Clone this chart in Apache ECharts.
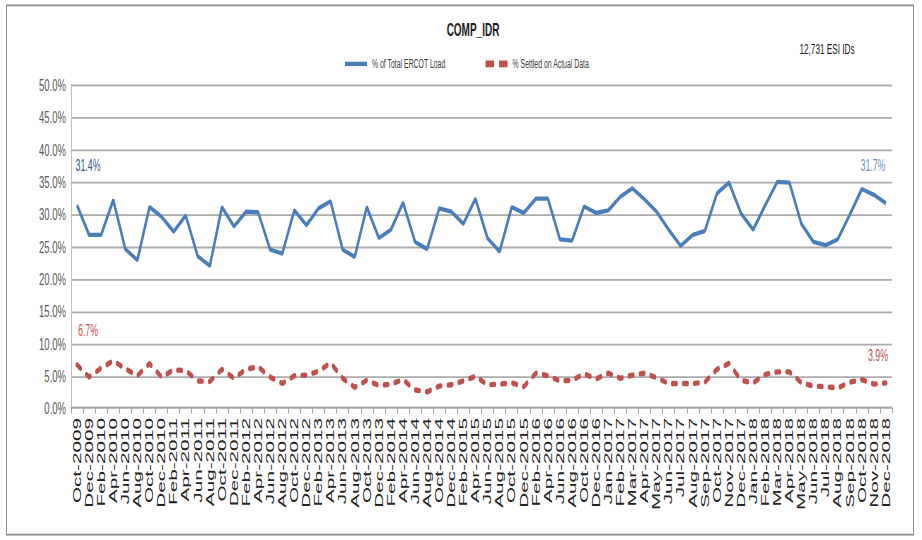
<!DOCTYPE html>
<html>
<head>
<meta charset="utf-8">
<title>COMP_IDR</title>
<script src="https://cdn.jsdelivr.net/npm/echarts@6/dist/echarts.min.js"></script>
<style>
  html, body { margin: 0; background: #fff; }
  #wrap { width: 922px; height: 540px; overflow: hidden; }
  /* the source picture is an Excel chart stretched vertically, so draw flat and stretch */
  #chart {
    width: 922px;
    height: 300px;
    transform: scaleY(1.8);
    transform-origin: 0 0;
  }
</style>
</head>
<body>
<div id="wrap"><div id="chart"></div></div>
<script>
// categories: every other month up to Dec-2016, then monthly
const months = [
  "Oct-2009", "Dec-2009",
  "Feb-2010", "Apr-2010", "Jun-2010", "Aug-2010", "Oct-2010", "Dec-2010",
  "Feb-2011", "Apr-2011", "Jun-2011", "Aug-2011", "Oct-2011", "Dec-2011",
  "Feb-2012", "Apr-2012", "Jun-2012", "Aug-2012", "Oct-2012", "Dec-2012",
  "Feb-2013", "Apr-2013", "Jun-2013", "Aug-2013", "Oct-2013", "Dec-2013",
  "Feb-2014", "Apr-2014", "Jun-2014", "Aug-2014", "Oct-2014", "Dec-2014",
  "Feb-2015", "Apr-2015", "Jun-2015", "Aug-2015", "Oct-2015", "Dec-2015",
  "Feb-2016", "Apr-2016", "Jun-2016", "Aug-2016", "Oct-2016", "Dec-2016",
  "Jan-2017", "Feb-2017", "Mar-2017", "Apr-2017", "May-2017", "Jun-2017",
  "Jul-2017", "Aug-2017", "Sep-2017", "Oct-2017", "Nov-2017", "Dec-2017",
  "Jan-2018", "Feb-2018", "Mar-2018", "Apr-2018", "May-2018", "Jun-2018",
  "Jul-2018", "Aug-2018", "Sep-2018", "Oct-2018", "Nov-2018", "Dec-2018",
];

const ercotLoadPct = [
  31.4, 26.8, 26.8, 32.2, 24.6, 22.9, 31.1, 29.6, 27.3, 29.8,
  23.5, 22.0, 31.1, 28.1, 30.4, 30.3, 24.5, 23.9, 30.6, 28.3,
  30.9, 32.0, 24.5, 23.4, 31.1, 26.3, 27.6, 31.8, 25.7, 24.6,
  30.9, 30.4, 28.5, 32.4, 26.3, 24.2, 31.1, 30.2, 32.4, 32.4,
  26.1, 25.9, 31.2, 30.2, 30.6, 32.7, 34.0, 32.3, 30.4, 27.6,
  25.1, 26.8, 27.4, 33.2, 34.9, 30.1, 27.6, 31.4, 35.0, 34.9,
  28.5, 25.7, 25.2, 26.1, 29.9, 33.9, 33.0, 31.7,
];

const settledActualPct = [
  6.7, 4.8, 6.2, 7.3, 6.1, 5.0, 6.9, 4.8, 5.9, 5.8,
  4.2, 4.1, 6.0, 4.6, 6.0, 6.4, 4.8, 3.8, 5.0, 5.1,
  5.7, 7.0, 4.6, 3.2, 4.3, 3.5, 3.7, 4.4, 2.8, 2.5,
  3.4, 3.6, 4.2, 4.9, 3.6, 3.7, 3.9, 3.3, 5.4, 5.0,
  4.2, 4.3, 5.3, 4.5, 5.4, 4.6, 5.1, 5.4, 4.7, 3.8,
  3.8, 3.8, 4.0, 6.0, 6.9, 4.3, 3.9, 5.2, 5.6, 5.6,
  3.9, 3.4, 3.3, 3.1, 4.0, 4.4, 3.7, 3.9,
];

const seriesNames = ["% of Total ERCOT Load", "% Settled on Actual Data"];

const font = '"Liberation Sans", Arial, sans-serif';

// value labels on the first and last point only
const edgeMarks = (values, firstLabel, lastLabel) => {
  const last = values.length - 1;
  const mark = (i, label) => ({
    coord: [i, values[i]],
    value: values[i],
    label: { ...label },
  });
  return {
    symbol: "circle",
    symbolSize: 1,
    silent: true,
    itemStyle: { color: "transparent" },
    label: { show: true, formatter: "{c}%", position: "top", fontFamily: font, fontSize: 8.8 },
    data: [mark(0, firstLabel), mark(last, lastLabel)],
  };
};

const chart = echarts.init(document.getElementById("chart"), null, { renderer: "svg" });
chart.setOption({
  animation: false,
  title: [
    {
      text: "COMP_IDR",
      left: 468,
      top: 6.5,
      textAlign: "center",
      textStyle: { fontFamily: font, fontSize: 10, fontWeight: "bold", color: "#1a1a1a" },
    },
    {
      text: "12,731 ESI IDs",
      left: 822,
      top: 18.5,
      textAlign: "center",
      textStyle: { fontFamily: font, fontSize: 8.2, fontWeight: "normal", color: "#1a1a1a" },
    },
  ],
  legend: {
    data: [
      { name: seriesNames[0], icon: "path://M0,0h22v2.4h-22z" },
      { name: seriesNames[1], icon: "path://M0,0h7v3h-7z M11,0h7v3h-7z" },
    ],
    top: 27,
    left: 340,
    itemWidth: 22,
    itemHeight: 8,
    itemGap: 40,
    textStyle: { fontFamily: font, fontSize: 6.9, color: "#404040" },
  },
  graphic: [
    {
      type: "rect",
      shape: { x: 6.5, y: 3, width: 907, height: 294 },
      style: { fill: "none", stroke: "#8c8c8c", lineWidth: 1 },
      silent: true,
    },
  ],
  grid: { left: 71, right: 30, top: 47.2, bottom: 73.3 },
  xAxis: {
    type: "category",
    data: months,
    boundaryGap: true,
    axisLine: { lineStyle: { color: "#a6a6a6" } },
    axisTick: { show: true, length: 3, lineStyle: { color: "#a6a6a6" } },
    axisLabel: {
      interval: 0,
      rotate: 90,
      margin: 5.5,
      fontFamily: font,
      fontSize: 11.5,
      color: "#222",
    },
  },
  yAxis: {
    type: "value",
    min: 0,
    max: 50,
    interval: 5,
    axisLine: { show: true, lineStyle: { color: "#bfbfbf" } },
    axisTick: { show: false },
    splitLine: { lineStyle: { color: "#ababab" } },
    axisLabel: {
      formatter: (v) => v.toFixed(1) + "%",
      margin: 5,
      fontFamily: font,
      fontSize: 9.5,
      color: "#595959",
    },
  },
  series: [
    {
      name: seriesNames[0],
      type: "line",
      symbol: "none",
      data: ercotLoadPct,
      lineStyle: { color: "#4a7ebb", width: 2.4 },
      itemStyle: { color: "#4a7ebb" },
      markPoint: edgeMarks(
        ercotLoadPct,
        { offset: [11, -12], color: "#2f5a96" },
        { offset: [-13, -11], color: "#7391c0" }
      ),
    },
    {
      name: seriesNames[1],
      type: "line",
      symbol: "none",
      data: settledActualPct,
      lineStyle: { color: "#c0504d", width: 3, type: [4, 7], cap: "round" },
      itemStyle: { color: "#c0504d" },
      markPoint: edgeMarks(
        settledActualPct,
        { offset: [11, -9], color: "#c0504d" },
        { offset: [-8, -5.5], color: "#c0504d" }
      ),
    },
  ],
});
</script>
</body>
</html>
